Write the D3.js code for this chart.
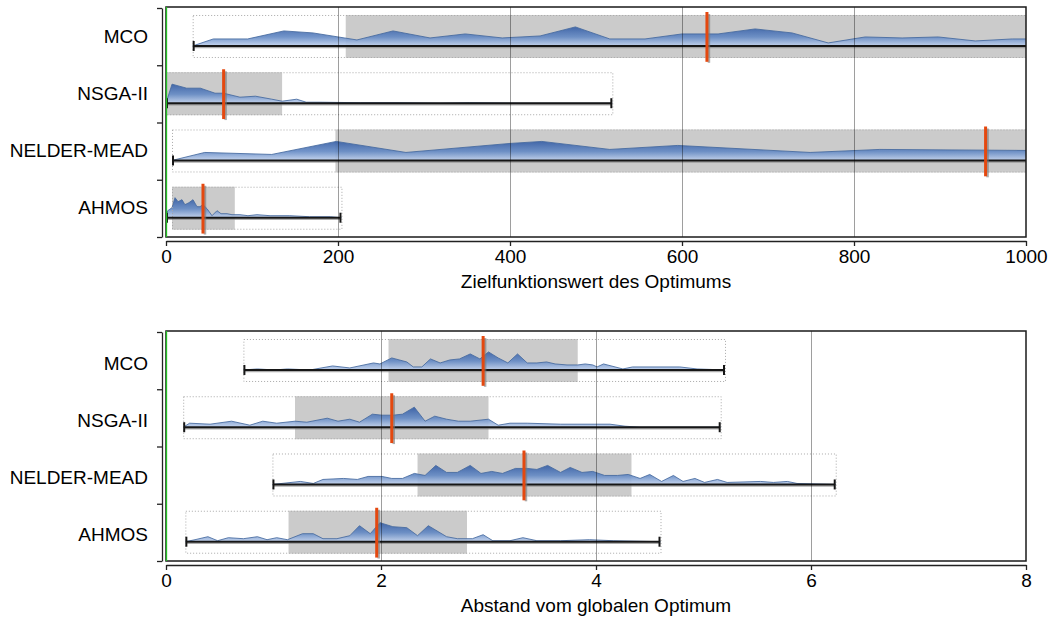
<!DOCTYPE html>
<html>
<head>
<meta charset="utf-8">
<script src="https://cdn.jsdelivr.net/npm/d3@7"></script>
<style>
  html, body { margin: 0; padding: 0; background: #fff; }
  svg { display: block; font-family: "Liberation Sans", Arial, sans-serif; }
</style>
</head>
<body>
<svg id="chart" width="1054" height="621"></svg>
<script>
// ---- data -------------------------------------------------------------
const categories = ["MCO", "NSGA-II", "NELDER-MEAD", "AHMOS"];

// objective value of the optimum found
const objTicks = [0, 200, 400, 600, 800, 1000];
const objMin    = [31, 0, 7, 0];
const objFrameLo = [31, 0, 7, 7];
const objQ1     = [209, 0, 197, 7];
const objMedian = [629, 67, 953, 43];
const objQ3     = [1100, 135, 1100, 80];
const objMax    = [1150, 519, 1150, 204];

const objDensityMCO = [[31,0],[55,7],[95,7],[137,15],[171,13],[222,6],[264,15],[307,8],[348,12],[391,8],[435,10],[476,19],[516,7],[557,7],[600,12],[642,12],[685,17],[728,13],[770,3],[813,9],[856,8],[898,9],[941,5],[984,7],[1026,7],[1100,7]];
const objDensityNSGA = [[0,0],[7,19],[24,15],[40,15],[57,10],[67,10],[86,6],[104,7],[123,4],[135,2],[152,4],[163,1],[179,1],[226,0.5],[272,0.5],[319,0],[353,0.5],[412,0],[519,0]];
const objDensityNM = [[7,0],[45,8],[123,6],[198,19],[279,8],[400,17],[437,19],[516,11],[595,15],[749,8],[830,11],[1000,10],[1100,10]];
const objDensityAHMOS = [[0,0],[2,7],[7,10],[10.5,20],[14,16],[18.6,18],[22,13],[26.7,15],[31.4,18],[36,11],[39.5,11],[43,13],[47.7,9],[53.5,2],[59.3,7],[64,4],[71,4],[76.7,3],[86,3],[95.3,2],[105.8,3],[121,2],[144,2],[167,1],[191,1],[204,0]];

// distance to the global optimum
const distTicks = [0, 2, 4, 6, 8];
const distMin    = [0.72, 0.16, 0.99, 0.18];
const distFrameLo = [0.72, 0.16, 0.99, 0.18];
const distQ1     = [2.07, 1.20, 2.34, 1.14];
const distMedian = [2.95, 2.10, 3.33, 1.96];
const distQ3     = [3.83, 3.00, 4.33, 2.80];
const distMax    = [5.20, 5.16, 6.23, 4.60];

const distDensityMCO = [[0.72,0],[0.85,1],[1.01,0],[1.13,1],[1.34,0],[1.55,4],[1.71,2],[1.93,7],[1.99,6],[2.10,12],[2.24,8],[2.30,3],[2.38,3],[2.46,11],[2.55,7],[2.64,10],[2.73,11],[2.83,16],[2.92,11],[3.00,18],[3.09,12],[3.18,7],[3.27,16],[3.36,7],[3.45,7],[3.54,8],[3.62,6],[3.73,5],[3.83,5],[3.90,6],[3.97,5],[4.01,3],[4.07,6],[4.25,1],[4.34,3],[4.78,3],[4.94,1],[5.20,0]];
const distDensityNSGA = [[0.16,0],[0.22,4],[0.41,3],[0.61,6],[0.78,2],[0.90,6],[1.03,4],[1.20,6],[1.31,5],[1.50,9],[1.60,6],[1.71,8],[1.80,5],[1.92,13],[2.01,12],[2.11,12],[2.20,13],[2.31,20],[2.41,6],[2.50,11],[2.61,8],[2.72,6],[2.83,6],[3.00,8],[3.09,2],[3.20,4],[3.36,4],[3.67,3],[4.13,3],[4.27,1],[4.41,0],[5.16,0]];
const distDensityNM = [[0.99,0],[1.25,3],[1.37,1],[1.46,5],[1.65,6],[1.78,5],[1.88,8],[2.01,8],[2.10,6],[2.20,6],[2.31,11],[2.41,9],[2.51,19],[2.61,12],[2.71,12],[2.83,19],[2.93,11],[3.03,13],[3.13,11],[3.25,16],[3.36,16],[3.45,15],[3.55,19],[3.67,12],[3.76,17],[3.87,12],[3.97,13],[4.08,9],[4.20,9],[4.30,10],[4.41,6],[4.50,10],[4.61,3],[4.72,9],[4.81,3],[4.92,6],[5.01,2],[5.13,5],[5.22,2],[5.53,3],[5.65,2],[5.78,3],[5.87,1],[6.23,0]];
const distDensityAHMOS = [[0.18,0],[0.27,2],[0.39,5],[0.48,1],[0.58,4],[0.72,3],[0.85,5],[0.94,2],[1.03,4],[1.13,2],[1.27,8],[1.37,8],[1.46,3],[1.59,3],[1.71,6],[1.80,16],[1.90,8],[1.99,19],[2.11,15],[2.24,14],[2.34,6],[2.44,16],[2.61,5],[2.71,3],[2.85,3],[2.95,7],[3.04,1],[3.20,1],[3.32,4],[3.45,1],[3.67,1],[3.94,2],[4.16,1],[4.60,0]];

// ---- drawing ----------------------------------------------------------
const svg = d3.select("#chart");
const defs = svg.append("defs");
const plotLeft = 166, plotRight = 1026;
const fontStack = "Liberation Sans, Arial, sans-serif";
let uid = 0;

function drawPanel(opt) {
  const id = "p" + (uid++);
  const x = d3.scaleLinear().domain(opt.domain).range([plotLeft, plotRight]);
  const y = d3.scaleBand().domain(categories).range([opt.top + 1, opt.bottom]).padding(0);
  const bw = y.bandwidth();
  const h = d3.scaleLinear().domain([0, 20]).range([0, bw * 0.35]);

  defs.append("clipPath").attr("id", id + "clip")
    .append("rect").attr("x", plotLeft).attr("y", opt.top)
    .attr("width", plotRight - plotLeft).attr("height", opt.bottom - opt.top);

  const g = svg.append("g");
  const inner = g.append("g").attr("clip-path", `url(#${id}clip)`);

  categories.forEach((c, i) => {
    const t = y(c);
    const boxTop = t + bw * 0.122, boxBot = t + bw * 0.873;
    const base = t + bw * 0.663;
    const row = inner.append("g");

    // interquartile box
    row.append("rect")
      .attr("x", x(opt.q1[i])).attr("y", boxTop)
      .attr("width", Math.max(0, x(opt.q3[i]) - x(opt.q1[i])))
      .attr("height", boxBot - boxTop)
      .attr("fill", "#cbcbcb");

    // density profile
    const gid = `${id}grad${i}`;
    const grad = defs.append("linearGradient").attr("id", gid)
      .attr("gradientUnits", "userSpaceOnUse")
      .attr("x1", 0).attr("x2", 0).attr("y1", base - h(20)).attr("y2", base);
    grad.append("stop").attr("offset", 0).attr("stop-color", "#2f58a2");
    grad.append("stop").attr("offset", 0.55).attr("stop-color", "#6389c4");
    grad.append("stop").attr("offset", 1).attr("stop-color", "#c0d1ed");

    const area = d3.area().x(d => x(d[0])).y0(base).y1(d => base - h(d[1]));
    const line = d3.line().x(d => x(d[0])).y(d => base - h(d[1]));
    row.append("path").datum(opt.density[i]).attr("d", area)
      .attr("fill", `url(#${gid})`).attr("fill-opacity", 0.9);
    row.append("path").datum(opt.density[i]).attr("d", line)
      .attr("fill", "none").attr("stroke", "#44689f").attr("stroke-width", 1).attr("stroke-opacity", 0.85);

    // dotted range frame
    row.append("rect")
      .attr("x", x(opt.frameLo[i]) + 0.5).attr("y", boxTop + 0.5)
      .attr("width", x(opt.max[i]) - x(opt.frameLo[i]))
      .attr("height", boxBot - boxTop - 1)
      .attr("fill", "none").attr("stroke", "#a8a8a8")
      .attr("stroke-width", 1).attr("stroke-dasharray", "1,2");

    // whisker with caps
    const wx0 = x(opt.min[i]) + 1, wx1 = x(opt.max[i]) - 1;
    row.append("line").attr("x1", wx0).attr("x2", wx1).attr("y1", base + 1.5).attr("y2", base + 1.5)
      .attr("stroke", "#8a8a8a").attr("stroke-width", 1.5).attr("stroke-opacity", 0.7);
    row.append("line").attr("x1", wx0).attr("x2", wx1).attr("y1", base).attr("y2", base)
      .attr("stroke", "#161616").attr("stroke-width", 2);
    [wx0, wx1].forEach(cx => {
      row.append("line").attr("x1", cx).attr("x2", cx).attr("y1", base - 5).attr("y2", base + 5)
        .attr("stroke", "#161616").attr("stroke-width", 2);
    });
  });

  // vertical grid lines
  inner.selectAll("line.grid")
    .data(opt.ticks.filter(v => v !== opt.domain[0] && v !== opt.domain[1]))
    .join("line").attr("class", "grid")
    .attr("x1", d => x(d) + 0.5).attr("x2", d => x(d) + 0.5)
    .attr("y1", opt.top).attr("y2", opt.bottom)
    .attr("stroke", "#000").attr("stroke-opacity", 0.38).attr("stroke-width", 1);

  // median markers
  categories.forEach((c, i) => {
    const t = y(c);
    const mx = x(opt.median[i]);
    inner.append("line").attr("x1", mx + 2).attr("x2", mx + 2)
      .attr("y1", t + bw * 0.07 + 2).attr("y2", t + bw * 0.94 + 1)
      .attr("stroke", "#777").attr("stroke-opacity", 0.6).attr("stroke-width", 2.5);
    inner.append("line").attr("x1", mx).attr("x2", mx)
      .attr("y1", t + bw * 0.07).attr("y2", t + bw * 0.94)
      .attr("stroke", "#e4480f").attr("stroke-width", 3);
  });

  // plot frame
  g.append("rect")
    .attr("x", plotLeft).attr("y", opt.top)
    .attr("width", plotRight - plotLeft).attr("height", opt.bottom - opt.top)
    .attr("fill", "none").attr("stroke", "#1a1a1a").attr("stroke-width", 1.5);
  g.append("line").attr("x1", plotLeft + 0.5).attr("x2", plotLeft + 0.5)
    .attr("y1", opt.top).attr("y2", opt.bottom)
    .attr("stroke", "#22c022").attr("stroke-width", 1.3);

  // category axis (labels) and its band separators
  const yAxisG = g.append("g").attr("transform", `translate(162,${opt.labelShift})`);
  yAxisG.call(d3.axisLeft(y).tickSize(0).tickPadding(14))
    .call(a => a.select(".domain").remove());
  yAxisG.selectAll("text").attr("font-size", 19).attr("fill", "#000")
    .attr("font-family", fontStack);
  const ySep = d3.scaleLinear().domain([0, categories.length]).range(y.range());
  const sepG = g.append("g").attr("transform", `translate(162,0)`)
    .call(d3.axisLeft(ySep).tickValues(d3.range(categories.length + 1)).tickSize(5).tickSizeOuter(0).tickFormat(""));
  sepG.selectAll("path, line").attr("stroke", "#222").attr("stroke-width", 1.3);

  // value axis
  const xAxisG = g.append("g").attr("transform", `translate(0,${opt.bottom + 4})`)
    .call(d3.axisBottom(x).tickValues(opt.ticks).tickSize(5).tickSizeOuter(0).tickPadding(4)
      .tickFormat(d3.format("d")));
  xAxisG.selectAll("path, line").attr("stroke", "#222").attr("stroke-width", 1.3);
  xAxisG.selectAll("text").attr("font-size", 19).attr("fill", "#000")
    .attr("font-family", fontStack);

  g.append("text")
    .attr("x", (plotLeft + plotRight) / 2).attr("y", opt.bottom + 51)
    .attr("text-anchor", "middle").attr("font-size", 19).attr("fill", "#000")
    .text(opt.title);
}

drawPanel({
  top: 7, bottom: 237, domain: [0, 1000], ticks: objTicks, labelShift: 0,
  min: objMin, frameLo: objFrameLo, q1: objQ1, median: objMedian, q3: objQ3, max: objMax,
  density: [objDensityMCO, objDensityNSGA, objDensityNM, objDensityAHMOS],
  title: "Zielfunktionswert des Optimums"
});

drawPanel({
  top: 331, bottom: 561, domain: [0, 8], ticks: distTicks, labelShift: 3,
  min: distMin, frameLo: distFrameLo, q1: distQ1, median: distMedian, q3: distQ3, max: distMax,
  density: [distDensityMCO, distDensityNSGA, distDensityNM, distDensityAHMOS],
  title: "Abstand vom globalen Optimum"
});
</script>
</body>
</html>
